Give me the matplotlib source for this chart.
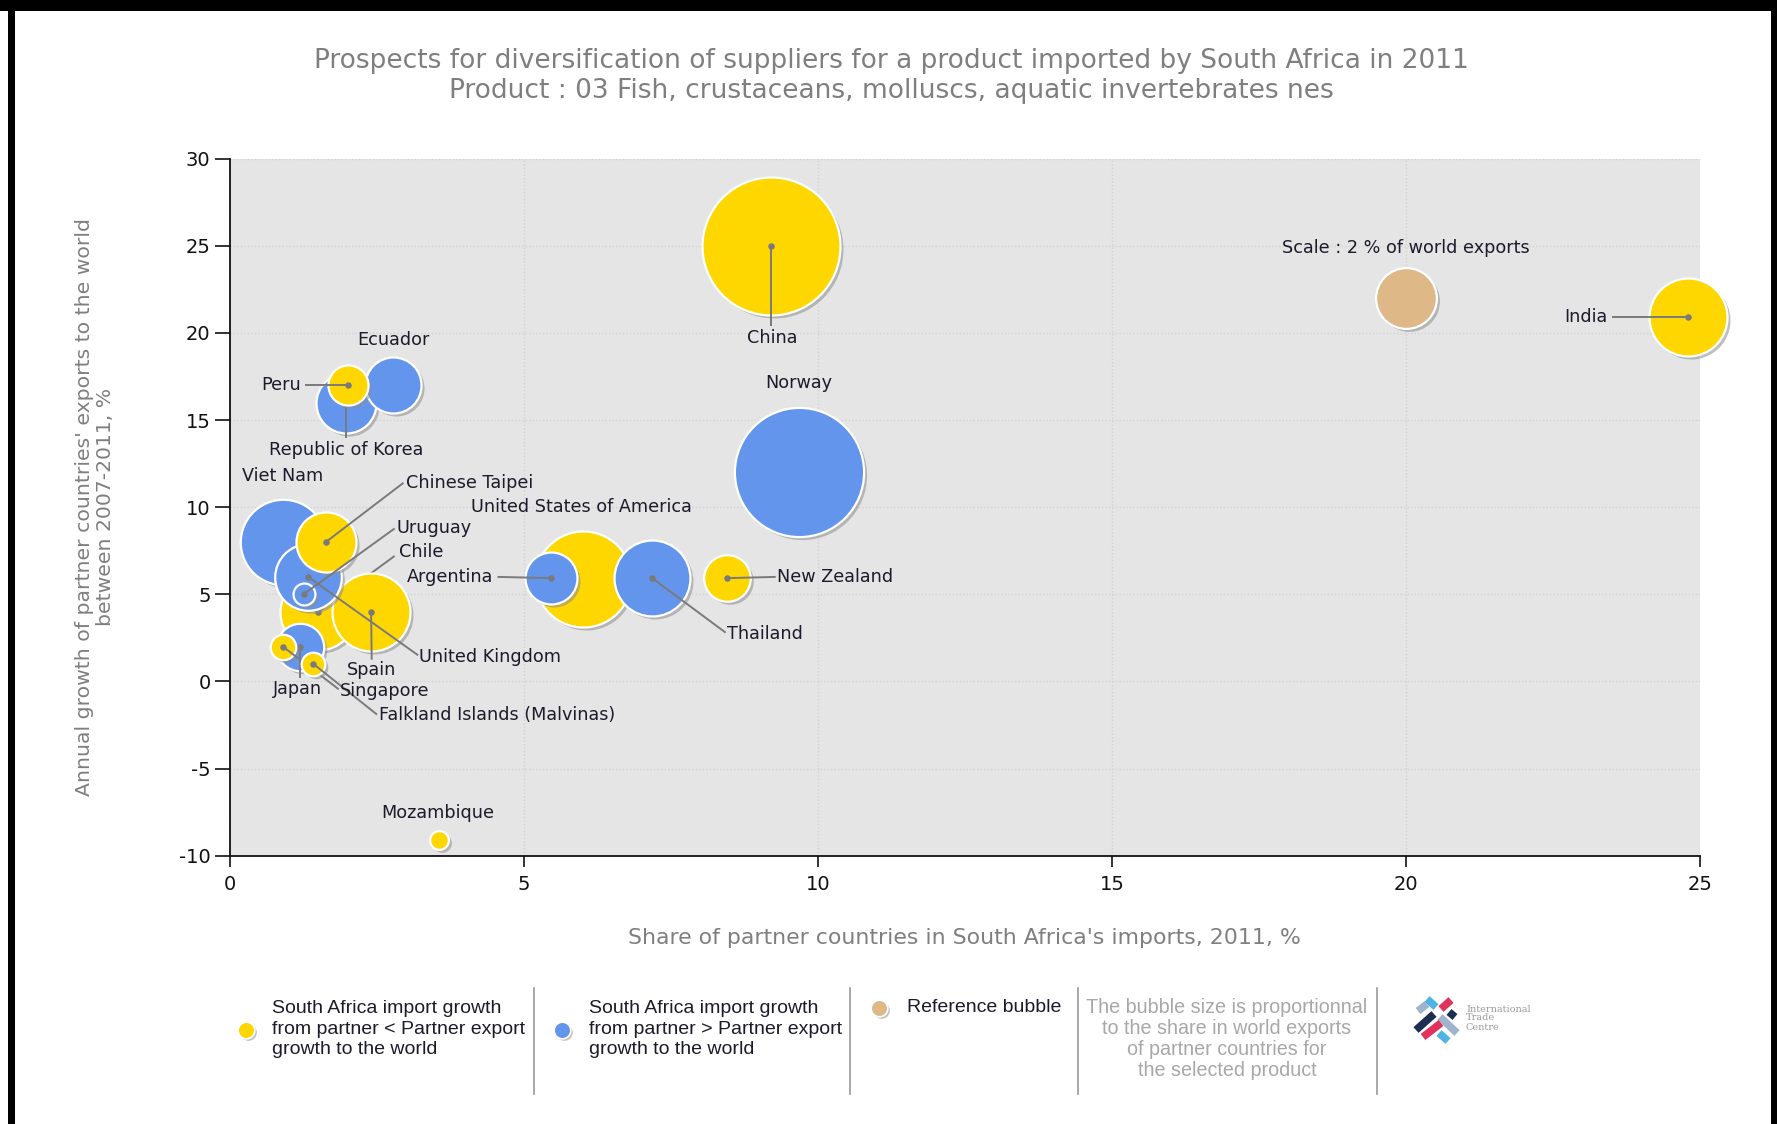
import matplotlib
matplotlib.use("Agg")
import matplotlib.pyplot as plt
from matplotlib.transforms import ScaledTranslation
from matplotlib.patches import Rectangle
from matplotlib.lines import Line2D

plt.rcParams["axes.unicode_minus"] = False

# ---------------- data ----------------
countries = ["Viet Nam", "Chile", "Spain", "United Kingdom", "Chinese Taipei", "Uruguay",
             "Japan", "Singapore", "Falkland Islands (Malvinas)", "Republic of Korea", "Ecuador",
             "Peru", "United States of America", "Argentina", "Thailand", "New Zealand",
             "Norway", "China", "India", "Mozambique"]
share_imports = [0.9, 1.5, 2.4, 1.33, 1.63, 1.25, 1.19, 0.9, 1.42, 1.98, 2.78,
                 2.0, 6.0, 5.46, 7.18, 8.45, 9.68, 9.2, 24.8, 3.55]
export_growth = [8.0, 4.0, 4.0, 6.0, 8.0, 5.0, 2.0, 2.0, 1.0, 16.0, 17.0,
                 17.0, 5.9, 5.93, 5.93, 5.93, 12.0, 25.0, 20.9, -9.1]
world_share = [3.95, 3.12, 3.29, 2.40, 1.95, 0.26, 1.22, 0.35, 0.30, 1.95, 1.70,
               0.87, 4.99, 1.46, 3.12, 1.17, 9.03, 10.3, 3.29, 0.19]
group = ["blue", "yellow", "yellow", "blue", "yellow", "blue", "blue", "yellow", "yellow",
         "blue", "blue", "yellow", "yellow", "blue", "blue", "yellow", "blue", "yellow",
         "yellow", "yellow"]
ref_share = 2.0
ref_xy = (20.0, 22.0)

x_ticks = [0, 5, 10, 15, 20, 25]
y_ticks = [-10, -5, 0, 5, 10, 15, 20, 25, 30]

title = ("Prospects for diversification of suppliers for a product imported by South Africa in 2011\n"
         "Product : 03 Fish, crustaceans, molluscs, aquatic invertebrates nes")
xlabel = "Share of partner countries in South Africa's imports, 2011, %"
ylabel = "Annual growth of partner countries' exports to the world\nbetween 2007-2011, %"

# ---------------- label layout (text position, alignment, leader end or None) ----------------
label_layout = {
    "China": ((9.23, 19.7), "center", (9.2, 20.4)),
    "India": ((23.42, 20.9), "right", (23.5, 20.9)),
    "Ecuador": ((2.78, 19.6), "center", None),
    "Peru": ((1.2, 17.0), "right", (1.27, 17.0)),
    "Republic of Korea": ((1.97, 13.3), "center", (1.98, 13.95)),
    "Norway": ((9.68, 17.1), "center", None),
    "Viet Nam": ((0.9, 11.8), "center", None),
    "Chinese Taipei": ((2.99, 11.4), "left", (2.95, 11.4)),
    "United States of America": ((5.98, 10.0), "center", None),
    "Uruguay": ((2.83, 8.78), "left", (2.8, 8.78)),
    "Chile": ((2.87, 7.41), "left", (2.8, 7.2)),
    "Argentina": ((4.47, 6.0), "right", (4.55, 6.0)),
    "New Zealand": ((9.31, 6.0), "left", (9.28, 6.0)),
    "Thailand": ((8.46, 2.73), "left", (8.43, 2.8)),
    "United Kingdom": ((3.22, 1.43), "left", (3.2, 1.5)),
    "Spain": ((2.41, 0.65), "center", (2.41, 1.25)),
    "Japan": ((1.14, -0.46), "center", (1.19, 0.2)),
    "Singapore": ((1.87, -0.52), "left", (1.85, -0.45)),
    "Falkland Islands (Malvinas)": ((2.54, -1.95), "left", (2.5, -1.9)),
    "Mozambique": ((3.53, -7.54), "center", None),
}

# ---------------- style ----------------
DPI = 100
colors = {"yellow": "#FFD700", "blue": "#6495ED", "ref": "#DEB887"}
REF_RADIUS_PX = 30.4
TEXT_DARK = "#1e1a2a"
GRAY_TEXT = "#7f7f7f"

def size_of(share):
    r_pt = REF_RADIUS_PX * (share / ref_share) ** 0.5 * 72.0 / DPI
    return (2 * r_pt) ** 2

fig = plt.figure(figsize=(17.77, 11.24), dpi=DPI)
fig.patch.set_facecolor("white")
ax = fig.add_axes([230 / 1777, 1 - 855.7 / 1124, 1470 / 1777, 697 / 1124])
ax.set_facecolor("#E5E5E5")
ax.set_xlim(0, 25)
ax.set_ylim(-10, 30)
ax.set_xticks(x_ticks)
ax.set_yticks(y_ticks)
ax.grid(True, color="#D2D2D2", linestyle=(0, (1, 1.5)), linewidth=1.0)
ax.set_axisbelow(True)
for s in ["top", "right"]:
    ax.spines[s].set_visible(False)
for s in ["left", "bottom"]:
    ax.spines[s].set_color("#111111")
    ax.spines[s].set_linewidth(1.3)
ax.tick_params(axis="both", length=11, width=1.2, color="#111111", labelsize=14,
               labelcolor="#111111", pad=3)
ax.tick_params(axis="x", length=8, pad=6)

shadow_tr = ax.transData + ScaledTranslation(3 / DPI, -3 / DPI, fig.dpi_scale_trans)

z = 3
for i, name in enumerate(countries):
    x, y = share_imports[i], export_growth[i]
    s = size_of(world_share[i])
    ax.scatter([x], [y], s=s, color="#8c8c8c", alpha=0.55, linewidths=0,
               transform=shadow_tr, zorder=z, clip_on=False)
    ax.scatter([x], [y], s=s, color=colors[group[i]], edgecolors="white", linewidths=1.6,
               zorder=z + 0.1, clip_on=False)
    (tx, ty), ha, lend = label_layout[name]
    if lend is not None:
        ax.plot([x, lend[0]], [y, lend[1]], color="#7a7a7a", lw=1.4, zorder=z + 0.2,
                solid_capstyle="butt")
        ax.scatter([x], [y], s=22, color="#7a7a7a", linewidths=0, zorder=z + 0.3)
    ax.text(tx, ty, name, ha=ha, va="center", fontsize=12.7, color=TEXT_DARK,
            family="DejaVu Sans", zorder=60)
    z += 1

# reference bubble
s_ref = size_of(ref_share)
ax.scatter([ref_xy[0]], [ref_xy[1]], s=s_ref, color="#8c8c8c", alpha=0.55, linewidths=0,
           transform=shadow_tr, zorder=z)
ax.scatter([ref_xy[0]], [ref_xy[1]], s=s_ref, color=colors["ref"], edgecolors="white",
           linewidths=1.6, zorder=z + 0.1)
ax.text(20.0, 24.85, "Scale : 2 % of world exports", ha="center", va="center", fontsize=12.7,
        color=TEXT_DARK, zorder=60)

# titles
fig.text(891 / 1777, 1 - 76 / 1124, title, ha="center", va="center", fontsize=19,
         color=GRAY_TEXT, linespacing=1.2)
fig.text(964 / 1777, 1 - 938 / 1124, xlabel, ha="center", va="center", fontsize=15.8,
         color=GRAY_TEXT)
fig.text(95 / 1777, 1 - 507 / 1124, ylabel, ha="center", va="center", fontsize=14.7,
         color=GRAY_TEXT, rotation=90, linespacing=1.15)

# ---------------- legend ----------------
def fx(px):
    return px / 1777

def fy(py):
    return 1 - py / 1124

for sx in [534, 850, 1078, 1377]:
    fig.add_artist(Line2D([fx(sx), fx(sx)], [fy(988), fy(1094)], color="#9a9a9a", lw=1.2))

def legend_dot(px, py, c):
    fig.add_artist(Line2D([fx(px + 2)], [fy(py + 2)], marker="o", markersize=12,
                          color="#9a9a9a", alpha=0.6, markeredgewidth=0))
    fig.add_artist(Line2D([fx(px)], [fy(py)], marker="o", markersize=12, color=c,
                          markeredgecolor="white", markeredgewidth=1.2))

legend_dot(246, 1030, colors["yellow"])
legend_dot(562, 1030, colors["blue"])
legend_dot(879, 1008, colors["ref"])
leg_txt = "South Africa import growth\nfrom partner {} Partner export\ngrowth to the world"
fig.text(fx(272), fy(1029), leg_txt.format("<"), ha="left", va="center", fontsize=14,
         color=TEXT_DARK, family="Liberation Sans", linespacing=1.3)
fig.text(fx(589), fy(1029), leg_txt.format(">"), ha="left", va="center", fontsize=14,
         color=TEXT_DARK, family="Liberation Sans", linespacing=1.3)
fig.text(fx(907), fy(1008), "Reference bubble", ha="left", va="center", fontsize=14,
         color=TEXT_DARK, family="Liberation Sans")
fig.text(fx(1227), fy(1039), "The bubble size is proportionnal\nto the share in world exports\n"
         "of partner countries for\nthe selected product", ha="center", va="center",
         fontsize=14.2, color="#a8a8a8", family="Liberation Sans", linespacing=1.12)

# ITC logo (simplified)
logo_strokes = [
    ((1427, 999), (1436, 1007), "#4fb3e6"),
    ((1441, 1009), (1451, 1000), "#e0325c"),
    ((1418, 1011), (1427, 1004), "#9fb4cc"),
    ((1449, 1012), (1455, 1017), "#1c2f52"),
    ((1416, 1030), (1434, 1014), "#1c2f52"),
    ((1440, 1017), (1457, 1033), "#9fb4cc"),
    ((1423, 1037), (1441, 1023), "#e0325c"),
    ((1439, 1033), (1448, 1041), "#4fb3e6"),
]
for (x0, y0), (x1, y1), c in logo_strokes:
    fig.add_artist(Line2D([fx(x0), fx(x1)], [fy(y0), fy(y1)], color=c, lw=5.5,
                          solid_capstyle="butt"))
fig.text(fx(1466), fy(1018), "International\nTrade\nCentre", ha="left", va="center",
         fontsize=7, color="#9a9a9a", family="DejaVu Serif", linespacing=1.0)

# page borders
fig.add_artist(Rectangle((0, fy(11)), 1, 11 / 1124, transform=fig.transFigure,
                         color="black", lw=0))
fig.add_artist(Rectangle((fx(8), 0), 7 / 1777, fy(8), transform=fig.transFigure,
                         color="black", lw=0))
fig.add_artist(Rectangle((fx(1771), 0), 6 / 1777, fy(8), transform=fig.transFigure,
                         color="black", lw=0))

fig.savefig("out.png", dpi=DPI)
